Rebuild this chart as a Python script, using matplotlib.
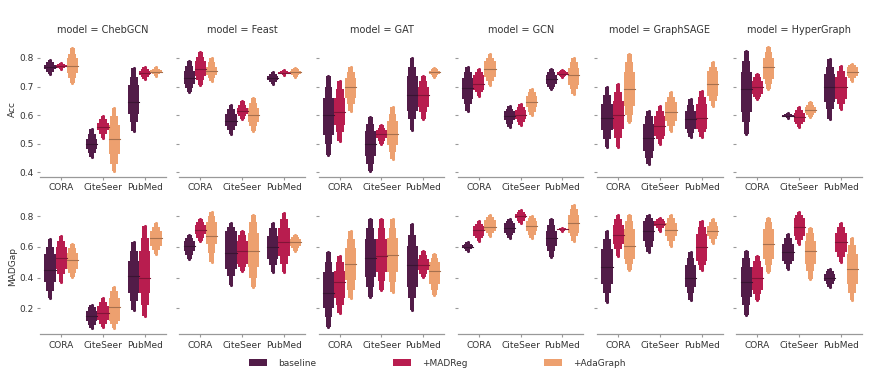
"""
Letter-value (boxen) plots of Acc and MADGap per model, dataset and method.
"""

import matplotlib
matplotlib.use("Agg")
import matplotlib.pyplot as plt
from matplotlib.colors import to_rgb
from matplotlib.patches import Patch
import numpy as np

MODELS = ["ChebGCN", "Feast", "GAT", "GCN", "GraphSAGE", "HyperGraph"]
DATASETS = ["CORA", "CiteSeer", "PubMed"]
METHODS = ["baseline", "+MADReg", "+AdaGraph"]
COLORS = ["#521c48", "#b81d4f", "#eda06f"]

# each row = one model; columns = (CORA, CiteSeer, PubMed) x (baseline, +MADReg, +AdaGraph)
# letter-value summary: lo / l2 / q1 / med / q3 / h2 / hi
acc_lo = [
    [0.745, 0.762, 0.713, 0.452, 0.520, 0.405, 0.545, 0.728, 0.738],
    [0.680, 0.705, 0.720, 0.533, 0.585, 0.545, 0.710, 0.740, 0.735],
    [0.460, 0.510, 0.616, 0.405, 0.500, 0.446, 0.546, 0.586, 0.735],
    [0.615, 0.668, 0.705, 0.557, 0.565, 0.600, 0.690, 0.732, 0.675],
    [0.487, 0.487, 0.575, 0.428, 0.500, 0.545, 0.522, 0.522, 0.633],
    [0.535, 0.655, 0.690, 0.588, 0.557, 0.592, 0.587, 0.620, 0.720],
]
acc_l2 = [
    [0.752, 0.766, 0.730, 0.468, 0.535, 0.430, 0.575, 0.735, 0.743],
    [0.695, 0.722, 0.730, 0.548, 0.595, 0.560, 0.717, 0.743, 0.740],
    [0.500, 0.540, 0.640, 0.430, 0.510, 0.470, 0.585, 0.610, 0.740],
    [0.640, 0.680, 0.720, 0.570, 0.575, 0.612, 0.700, 0.737, 0.690],
    [0.515, 0.520, 0.600, 0.450, 0.515, 0.560, 0.538, 0.540, 0.650],
    [0.575, 0.665, 0.710, 0.592, 0.567, 0.600, 0.620, 0.640, 0.730],
]
acc_q1 = [
    [0.760, 0.769, 0.748, 0.481, 0.547, 0.465, 0.605, 0.741, 0.747],
    [0.710, 0.738, 0.742, 0.562, 0.603, 0.575, 0.722, 0.745, 0.745],
    [0.530, 0.565, 0.660, 0.455, 0.518, 0.495, 0.615, 0.628, 0.745],
    [0.658, 0.688, 0.735, 0.582, 0.585, 0.627, 0.710, 0.741, 0.705],
    [0.546, 0.552, 0.633, 0.475, 0.528, 0.580, 0.552, 0.552, 0.668],
    [0.610, 0.675, 0.728, 0.595, 0.577, 0.607, 0.645, 0.657, 0.738],
]
acc_med = [
    [0.768, 0.772, 0.772, 0.497, 0.558, 0.515, 0.645, 0.748, 0.752],
    [0.730, 0.760, 0.755, 0.580, 0.613, 0.600, 0.729, 0.748, 0.750],
    [0.600, 0.610, 0.700, 0.500, 0.535, 0.535, 0.670, 0.670, 0.750],
    [0.695, 0.710, 0.760, 0.598, 0.600, 0.645, 0.728, 0.745, 0.740],
    [0.590, 0.600, 0.690, 0.520, 0.560, 0.610, 0.585, 0.590, 0.710],
    [0.690, 0.700, 0.770, 0.598, 0.593, 0.617, 0.700, 0.700, 0.752],
]
acc_q3 = [
    [0.776, 0.776, 0.800, 0.515, 0.572, 0.565, 0.705, 0.755, 0.758],
    [0.755, 0.790, 0.770, 0.605, 0.625, 0.625, 0.737, 0.751, 0.755],
    [0.660, 0.660, 0.730, 0.545, 0.548, 0.580, 0.738, 0.697, 0.755],
    [0.730, 0.740, 0.790, 0.613, 0.618, 0.668, 0.742, 0.750, 0.765],
    [0.640, 0.650, 0.750, 0.568, 0.597, 0.645, 0.615, 0.638, 0.755],
    [0.750, 0.720, 0.800, 0.601, 0.608, 0.628, 0.744, 0.732, 0.767],
]
acc_h2 = [
    [0.785, 0.779, 0.815, 0.535, 0.585, 0.595, 0.735, 0.762, 0.763],
    [0.772, 0.805, 0.785, 0.620, 0.637, 0.642, 0.745, 0.754, 0.760],
    [0.700, 0.690, 0.750, 0.570, 0.556, 0.605, 0.770, 0.720, 0.760],
    [0.750, 0.750, 0.800, 0.623, 0.628, 0.680, 0.752, 0.754, 0.785],
    [0.670, 0.680, 0.785, 0.595, 0.615, 0.665, 0.637, 0.665, 0.770],
    [0.790, 0.733, 0.820, 0.604, 0.618, 0.637, 0.770, 0.755, 0.774],
]
acc_hi = [
    [0.792, 0.783, 0.835, 0.550, 0.597, 0.625, 0.765, 0.770, 0.768],
    [0.788, 0.820, 0.800, 0.637, 0.650, 0.660, 0.752, 0.757, 0.765],
    [0.738, 0.720, 0.767, 0.592, 0.565, 0.628, 0.800, 0.738, 0.765],
    [0.767, 0.760, 0.814, 0.633, 0.640, 0.690, 0.762, 0.758, 0.800],
    [0.697, 0.710, 0.814, 0.615, 0.633, 0.680, 0.656, 0.685, 0.785],
    [0.826, 0.745, 0.837, 0.607, 0.627, 0.645, 0.796, 0.773, 0.780],
]

madgap_lo = [
    [0.265, 0.370, 0.405, 0.070, 0.080, 0.070, 0.190, 0.150, 0.555],
    [0.520, 0.640, 0.500, 0.350, 0.445, 0.340, 0.436, 0.436, 0.575],
    [0.080, 0.170, 0.265, 0.275, 0.320, 0.307, 0.190, 0.404, 0.285],
    [0.575, 0.640, 0.670, 0.660, 0.757, 0.660, 0.532, 0.705, 0.640],
    [0.243, 0.543, 0.446, 0.565, 0.704, 0.607, 0.255, 0.446, 0.628],
    [0.157, 0.254, 0.436, 0.457, 0.618, 0.393, 0.340, 0.500, 0.254],
]
madgap_l2 = [
    [0.310, 0.420, 0.430, 0.090, 0.100, 0.100, 0.250, 0.220, 0.580],
    [0.550, 0.660, 0.560, 0.410, 0.470, 0.400, 0.480, 0.490, 0.590],
    [0.140, 0.220, 0.320, 0.340, 0.380, 0.370, 0.270, 0.425, 0.320],
    [0.585, 0.660, 0.690, 0.680, 0.770, 0.680, 0.570, 0.709, 0.670],
    [0.300, 0.585, 0.490, 0.600, 0.720, 0.640, 0.300, 0.480, 0.650],
    [0.220, 0.290, 0.480, 0.485, 0.645, 0.440, 0.360, 0.535, 0.300],
]
madgap_q1 = [
    [0.370, 0.457, 0.455, 0.115, 0.125, 0.120, 0.300, 0.300, 0.607],
    [0.575, 0.682, 0.618, 0.457, 0.490, 0.467, 0.520, 0.543, 0.607],
    [0.200, 0.265, 0.382, 0.405, 0.436, 0.436, 0.340, 0.446, 0.360],
    [0.592, 0.672, 0.704, 0.693, 0.785, 0.704, 0.607, 0.712, 0.693],
    [0.360, 0.618, 0.520, 0.640, 0.735, 0.671, 0.340, 0.510, 0.671],
    [0.275, 0.318, 0.520, 0.510, 0.671, 0.490, 0.375, 0.564, 0.360],
]
madgap_med = [
    [0.450, 0.530, 0.515, 0.150, 0.170, 0.205, 0.410, 0.400, 0.660],
    [0.605, 0.710, 0.670, 0.560, 0.570, 0.570, 0.600, 0.630, 0.630],
    [0.300, 0.370, 0.490, 0.530, 0.540, 0.550, 0.480, 0.480, 0.440],
    [0.602, 0.710, 0.730, 0.725, 0.800, 0.735, 0.655, 0.715, 0.757],
    [0.470, 0.680, 0.605, 0.700, 0.752, 0.712, 0.400, 0.600, 0.704],
    [0.370, 0.400, 0.618, 0.565, 0.730, 0.575, 0.400, 0.630, 0.457],
]
madgap_q3 = [
    [0.555, 0.596, 0.560, 0.185, 0.215, 0.270, 0.510, 0.575, 0.700],
    [0.640, 0.745, 0.765, 0.700, 0.640, 0.690, 0.670, 0.725, 0.650],
    [0.435, 0.445, 0.595, 0.650, 0.650, 0.660, 0.605, 0.520, 0.500],
    [0.612, 0.735, 0.775, 0.755, 0.815, 0.768, 0.704, 0.718, 0.810],
    [0.585, 0.745, 0.714, 0.768, 0.768, 0.757, 0.480, 0.682, 0.736],
    [0.468, 0.468, 0.714, 0.618, 0.790, 0.640, 0.425, 0.693, 0.554],
]
madgap_h2 = [
    [0.600, 0.635, 0.590, 0.205, 0.240, 0.310, 0.570, 0.660, 0.730],
    [0.660, 0.765, 0.800, 0.730, 0.675, 0.760, 0.720, 0.780, 0.665],
    [0.500, 0.500, 0.650, 0.720, 0.720, 0.720, 0.680, 0.550, 0.530],
    [0.620, 0.752, 0.795, 0.770, 0.830, 0.785, 0.740, 0.721, 0.845],
    [0.650, 0.780, 0.770, 0.790, 0.780, 0.785, 0.530, 0.730, 0.760],
    [0.530, 0.510, 0.760, 0.655, 0.810, 0.690, 0.440, 0.730, 0.610],
]
madgap_hi = [
    [0.650, 0.670, 0.618, 0.220, 0.265, 0.340, 0.630, 0.735, 0.757],
    [0.680, 0.780, 0.830, 0.757, 0.700, 0.810, 0.757, 0.820, 0.680],
    [0.565, 0.543, 0.704, 0.780, 0.780, 0.780, 0.746, 0.575, 0.554],
    [0.630, 0.770, 0.810, 0.780, 0.843, 0.800, 0.780, 0.725, 0.875],
    [0.704, 0.810, 0.810, 0.810, 0.790, 0.810, 0.564, 0.768, 0.780],
    [0.575, 0.543, 0.790, 0.682, 0.830, 0.725, 0.457, 0.757, 0.660],
]

ROWS = [
    ("Acc", [acc_lo, acc_l2, acc_q1, acc_med, acc_q3, acc_h2, acc_hi],
     (0.383, 0.859), [0.4, 0.5, 0.6, 0.7, 0.8]),
    ("MADGap", [madgap_lo, madgap_l2, madgap_q1, madgap_med, madgap_q3, madgap_h2, madgap_hi],
     (0.03, 0.915), [0.2, 0.4, 0.6, 0.8]),
]

TEXT = "#333333"


def darker(color, f=0.7):
    return tuple(c * f for c in to_rgb(color))


def draw_boxen(ax, x, w, s, color):
    """Draw one letter-value plot from its summary (lo, l2, q1, med, q3, h2, hi)."""
    lo, l2, q1, med, q3, h2, hi = s
    ax.bar(x, hi - lo, bottom=lo, width=w * 0.42, color=color, linewidth=0)
    ax.bar(x, h2 - l2, bottom=l2, width=w * 0.7, color=color, linewidth=0)
    ax.bar(x, q3 - q1, bottom=q1, width=w, color=color, linewidth=0)
    ax.plot([x - w / 2, x + w / 2], [med, med], color=darker(color), lw=0.8)
    ax.scatter([x, x], [lo, hi], s=5, color=color, linewidths=0, zorder=3)


fig, axes = plt.subplots(2, 6, figsize=(8.75, 3.74), dpi=100, sharey="row",
                         gridspec_kw=dict(left=0.046, right=0.985, top=0.890,
                                          bottom=0.106, wspace=0.11, hspace=0.158))

w = 0.8 / len(METHODS)
offsets = (np.arange(len(METHODS)) - 1) * w

for r, (metric, stats, ylim, yticks) in enumerate(ROWS):
    for c, model in enumerate(MODELS):
        ax = axes[r, c]
        for d in range(len(DATASETS)):
            for m in range(len(METHODS)):
                k = d * len(METHODS) + m
                s = [stat[c][k] for stat in stats]
                draw_boxen(ax, d + offsets[m], w, s, COLORS[m])
        ax.set_xlim(-0.5, len(DATASETS) - 0.5)
        ax.set_ylim(*ylim)
        ax.set_xticks(range(len(DATASETS)))
        ax.set_xticklabels(DATASETS)
        ax.set_yticks(yticks)
        for side in ["left", "top", "right"]:
            ax.spines[side].set_visible(False)
        ax.spines["bottom"].set_color("#999999")
        ax.spines["bottom"].set_linewidth(0.9)
        ax.tick_params(axis="both", labelsize=6.5, colors="#999999", labelcolor=TEXT,
                       length=2.5, width=0.8, pad=2)
        if r == 0:
            ax.set_title(f"model = {model}", fontsize=7, color=TEXT, pad=6)
        if c == 0:
            ax.set_ylabel(metric, fontsize=6.5, color=TEXT, labelpad=2)

handles = [Patch(facecolor=col, edgecolor="none") for col in COLORS]
fig.legend(handles, METHODS, loc="lower center", bbox_to_anchor=(0.5, -0.005), ncol=3,
           frameon=False, fontsize=6.5, labelcolor=TEXT, handlelength=2.0,
           handleheight=0.8, columnspacing=8.5, handletextpad=1.2)

fig.savefig("out.png", dpi=100, facecolor="white")
